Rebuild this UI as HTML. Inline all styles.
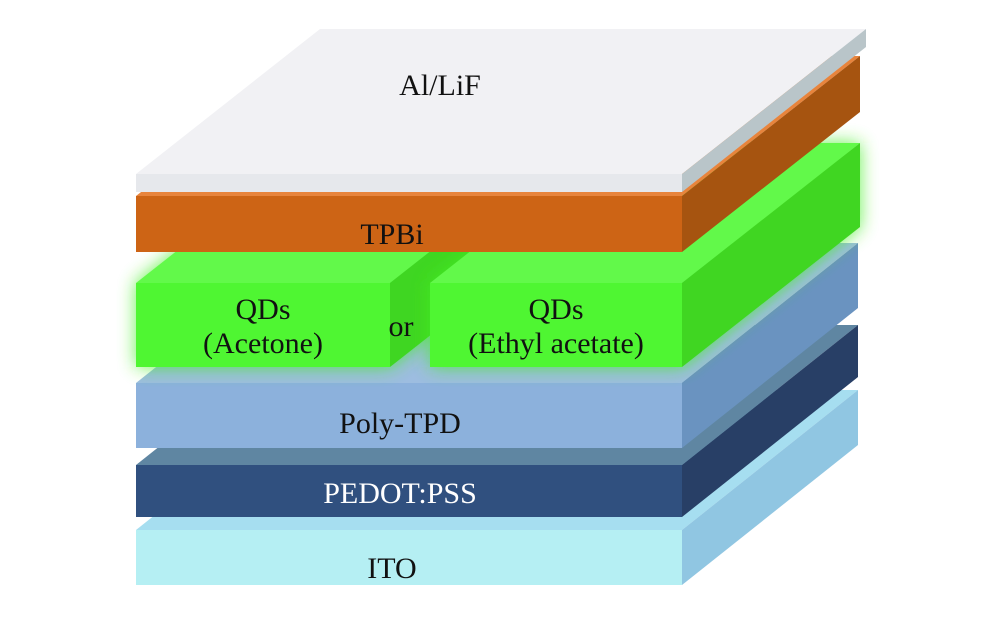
<!DOCTYPE html>
<html><head><meta charset="utf-8"><style>
html,body{margin:0;padding:0;background:#fff;}
svg{display:block;}
text{font-family:"Liberation Serif",serif;font-size:30px;fill:#111;}
</style></head><body>
<svg width="1000" height="617" viewBox="0 0 1000 617">
<defs>
<filter id="glow" x="-10%" y="-20%" width="120%" height="140%"><feGaussianBlur stdDeviation="9"/></filter>
</defs>
<g id="layers"></g>
<text x="392" y="578" text-anchor="middle">ITO</text>
<text x="400" y="503" text-anchor="middle" style="fill:#fff">PEDOT:PSS</text>
<text x="400" y="433" text-anchor="middle">Poly-TPD</text>
<text x="263" y="319" text-anchor="middle">QDs</text>
<text x="263" y="353" text-anchor="middle">(Acetone)</text>
<text x="401" y="336" text-anchor="middle">or</text>
<text x="556" y="319" text-anchor="middle">QDs</text>
<text x="556" y="353" text-anchor="middle">(Ethyl acetate)</text>
<text x="392" y="244" text-anchor="middle">TPBi</text>
<text x="440" y="95" text-anchor="middle">Al/LiF</text>
</svg>
<script>
const layers=[
 {n:'ito',x0:136,x1:682,t:530,b:585,dx:176,dy:-140,front:'#b5eff3',top:'#a6def0',side:'#90c6e2'},
 {n:'pedot',x0:136,x1:682,t:465,b:517,dx:176,dy:-140,front:'#30507f',top:'#5f86a2',side:'#283f66'},
 {n:'polytpd',x0:136,x1:682,t:383,b:448,dx:176,dy:-140,front:'#8cb1dc',top:'#9dbde0',side:'#6a93c0'},
 {n:'qd-left',x0:136,x1:390,t:283,b:367,dx:178,dy:-140,front:'#4ff632',top:'#62f94a',side:'#3fd622',glow:1},
 {n:'qd-right',x0:430,x1:682,t:283,b:367,dx:178,dy:-140,front:'#4ff632',top:'#62f94a',side:'#40d622',glow:1},
 {n:'tpbi',x0:136,x1:682,t:196,b:252,dx:178,dy:-140,front:'#cd6415',top:'#e8843c',side:'#a65410'},
 {n:'alif',x0:136,x1:682,t:174,b:192,dx:184,dy:-145,front:'#e6e8ec',top:'#f1f1f4',side:'#b9c5c9'}
];
const g=document.getElementById('layers');
const NS='http://www.w3.org/2000/svg';
function poly(pts,fill,name,extra){
 const p=document.createElementNS(NS,'polygon');
 p.setAttribute('points',pts.map(a=>a.join(',')).join(' '));
 p.setAttribute('fill',fill);
 if(extra){p.setAttribute('filter',extra);p.setAttribute('opacity','0.8');}
 
 
 g.appendChild(p);
}
layers.forEach(L=>{
 const {x0,x1,t,b,dx,dy}=L;
 const outline=[[x0,t],[x0+dx,t+dy],[x1+dx,t+dy],[x1+dx,b+dy],[x1,b],[x0,b]];
 if(L.glow) poly(outline,'#44ee22',L.n+'-glow','url(#glow)');
 poly([[x0,t],[x1,t],[x1+dx,t+dy],[x0+dx,t+dy]],L.top,L.n+'-top-face');
 poly([[x1,t],[x1+dx,t+dy],[x1+dx,b+dy],[x1,b]],L.side,L.n+'-side-face');
 poly([[x0,t],[x1,t],[x1,b],[x0,b]],L.front,L.n+'-front-face');
});
</script>
</body></html>
